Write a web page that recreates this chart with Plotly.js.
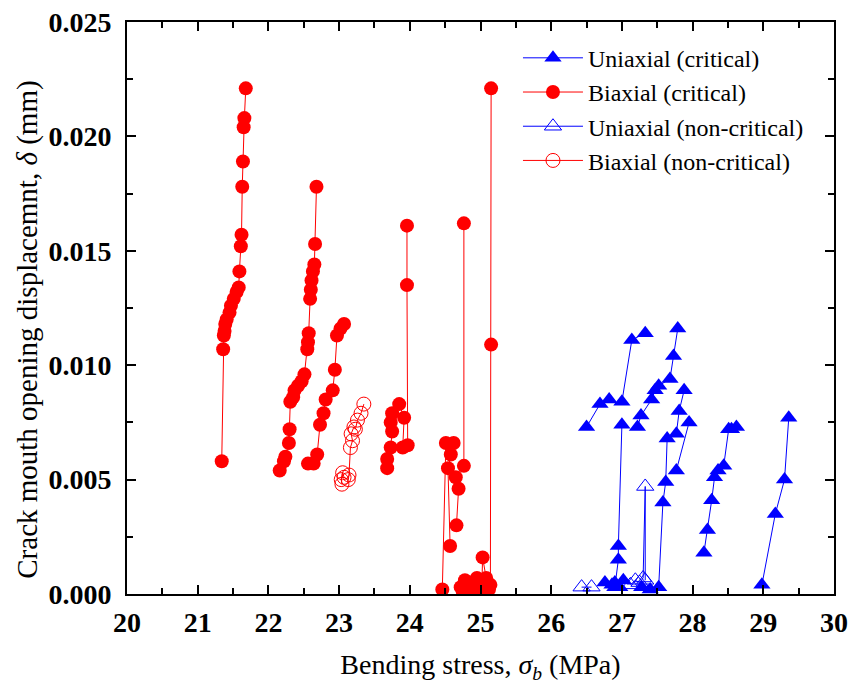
<!DOCTYPE html>
<html>
<head>
<meta charset="utf-8">
<script src="https://cdn.plot.ly/plotly-3.0.1.min.js"></script>
<style>html,body{margin:0;padding:0;background:#fff;}#chart{width:848px;height:684px;}</style>
</head>
<body>
<div id="chart"></div>
<script>
// Uniaxial (critical): specimens separated by null
const uniCritX = [26.50, 26.69, 26.82, null,
  27.00, 27.14, 27.33, null,
  26.90, 26.95, 26.95, 27.00, null,
  27.22, 27.27, 27.42, 27.47, 27.52, 27.68, 27.73, 27.79, null,
  27.52, 27.58, 27.62, 27.64, 27.77, 27.81, 27.88, null,
  27.77, 27.95, null,
  28.16, 28.21, 28.27, 28.31, 28.36, 28.44, 28.51, 28.55, 28.62, null,
  28.98, 29.17, 29.30, 29.36, null,
  26.76, 26.86, 26.90, 26.97, 27.02, null,
  27.28, 27.40];
const uniCritY = [0.0073, 0.0083, 0.0085, null,
  0.0084, 0.0111, 0.0114, null,
  0.0003, 0.0015, 0.0021, 0.0074, null,
  0.0073, 0.0078, 0.0085, 0.0089, 0.0091, 0.0094, 0.0104, 0.0116, null,
  0.0003, 0.0040, 0.0049, 0.0068, 0.0070, 0.0080, 0.0089, null,
  0.0054, 0.0075, null,
  0.0018, 0.0028, 0.0041, 0.0051, 0.0054, 0.0056, 0.0072, 0.0072, 0.0073, null,
  0.0004, 0.0035, 0.0050, 0.0077, null,
  0.0005, 0.0004, 0.0005, 0.0003, 0.0006, null,
  0.0003, 0.0002];

// Biaxial (critical)
const biCritX = [21.34, 21.36, 21.37, 21.38, 21.39, 21.41, 21.45, 21.47, 21.51, 21.55, 21.58, 21.59, 21.61, 21.62, 21.63, 21.64, 21.65, 21.66, 21.68, null,
  22.16, 22.22, 22.24, 22.29, 22.30, 22.31, 22.35, 22.37, 22.42, 22.47, 22.51, 22.55, 22.56, 22.57, 22.59, 22.60, 22.61, 22.63, 22.65, 22.66, 22.68, null,
  22.56, 22.64, 22.69, 22.73, 22.78, 22.81, 22.91, 22.94, 22.97, 23.02, 23.07, null,
  23.68, 23.68, 23.73, 23.75, 23.73, 23.75, 23.85, 23.92, 23.90, 23.97, 23.96, 23.96, null,
  24.46, 24.51, 24.62, 24.58, 24.54, 24.57, null,
  24.66, 24.69, 24.65, 24.765, 24.765, null,
  24.72, 24.75, 24.78, 24.82, 24.86, 24.88, 24.95, 25.00, 25.02, 25.03, 25.08, 25.12, null,
  25.15, 25.15, 25.14];
const biCritY = [0.0058, 0.0107, 0.0113, 0.0115, 0.0118, 0.0120, 0.0123, 0.0126, 0.0129, 0.0132, 0.0134, 0.0141, 0.0152, 0.0157, 0.0178, 0.0189, 0.0204, 0.0208, 0.0221, null,
  0.0054, 0.0058, 0.0060, 0.0066, 0.0072, 0.0084, 0.0086, 0.0089, 0.0091, 0.0093, 0.0096, 0.0107, 0.0110, 0.0114, 0.0129, 0.0133, 0.0137, 0.0141, 0.0144, 0.0153, 0.0178, null,
  0.0057, 0.0057, 0.0061, 0.0074, 0.0079, 0.0085, 0.0089, 0.0098, 0.0113, 0.0116, 0.0118, null,
  0.0055, 0.0059, 0.0064, 0.0071, 0.0075, 0.0079, 0.0083, 0.0077, 0.0064, 0.0065, 0.0135, 0.0161, null,
  0.0002, 0.0066, 0.0066, 0.0061, 0.0055, 0.0021, null,
  0.0030, 0.0046, 0.0051, 0.0056, 0.0162, null,
  0.0003, 0.0001, 0.0006, 0.0003, 0.0002, 0.0005, 0.0007, 0.0002, 0.0005, 0.0016, 0.0007, 0.0002, null,
  0.0221, 0.0109, 0.0004];

// Uniaxial (non-critical)
const uniNonX = [26.43, 26.57, null, 27.12, 27.19, 27.25, 27.30, 27.33, 27.33];
const uniNonY = [0.0003, 0.0003, null, 0.0004, 0.0006, 0.0005, 0.0007, 0.0047, 0.0006];

// Biaxial (non-critical)
const biNonX = [23.04, 23.03, 23.05, 23.07, 23.13, 23.14, 23.16, 23.19, 23.17, 23.21, 23.23, 23.26, 23.31, 23.35];
const biNonY = [0.0048, 0.0050, 0.0053, 0.0051, 0.0050, 0.0052, 0.0064, 0.0067, 0.0070, 0.0073, 0.0072, 0.0076, 0.0079, 0.0083];

const xTicks = [20, 21, 22, 23, 24, 25, 26, 27, 28, 29, 30];
const yTicks = [0, 0.005, 0.010, 0.015, 0.020, 0.025];
const yTickText = ["0.000", "0.005", "0.010", "0.015", "0.020", "0.025"];

const RED = "#FF0000", BLUE = "#0000FF";
const serif = "Liberation Serif, Times New Roman, serif";

const traces = [
  {x: uniCritX, y: uniCritY, name: "Uniaxial (critical)", mode: "lines+markers",
   line: {color: BLUE, width: 1}, marker: {symbol: "triangle-up", size: 15, color: BLUE}},
  {x: biCritX, y: biCritY, name: "Biaxial (critical)", mode: "lines+markers",
   line: {color: RED, width: 1}, marker: {symbol: "circle", size: 14, color: RED}},
  {x: uniNonX, y: uniNonY, name: "Uniaxial (non-critical)", mode: "lines+markers",
   line: {color: BLUE, width: 1}, marker: {symbol: "triangle-up-open", size: 15, color: BLUE, line: {width: 1}}},
  {x: biNonX, y: biNonY, name: "Biaxial (non-critical)", mode: "lines+markers",
   line: {color: RED, width: 1}, marker: {symbol: "circle-open", size: 14, color: RED, line: {width: 1}}}
];
traces.forEach(t => { t.type = "scatter"; t.connectgaps = false; });

const axisCommon = {
  showline: true, linecolor: "#000", linewidth: 2, mirror: "ticks",
  ticks: "inside", tickcolor: "#000", tickwidth: 2, ticklen: 9,
  showgrid: false, zeroline: false,
  tickfont: {family: serif, size: 28, color: "#000", weight: "bold"}
};

const layout = {
  width: 848, height: 684,
  margin: {l: 127, r: 14, t: 22, b: 90},
  paper_bgcolor: "#fff", plot_bgcolor: "#fff",
  showlegend: true,
  legend: {x: 0.553, y: 0.976, xanchor: "left", yanchor: "top", itemwidth: 60,
    bgcolor: "rgba(255,255,255,0)", font: {family: serif, size: 24, color: "#000"},
    tracegroupgap: 0},
  xaxis: Object.assign({}, axisCommon, {
    range: [20, 30], tickvals: xTicks, ticktext: xTicks.map(String),
    minor: {dtick: 0.5, tick0: 20, ticks: "inside", ticklen: 6, tickwidth: 2, tickcolor: "#000"},
    ticklabelstandoff: 2,
    title: {text: "Bending stress, <i>σ</i><sub><i>b</i></sub> (MPa)", font: {family: serif, size: 28, color: "#000"}, standoff: 18}
  }),
  yaxis: Object.assign({}, axisCommon, {
    range: [0, 0.025], tickvals: yTicks, ticktext: yTickText,
    minor: {dtick: 0.0025, tick0: 0, ticks: "inside", ticklen: 6, tickwidth: 2, tickcolor: "#000"},
    ticklabelstandoff: 8
  }),
  annotations: [{
    text: "Crack mouth opening displacemnt, <i>δ</i> (mm)",
    xref: "paper", yref: "paper", x: 0, y: 0.462, xanchor: "center", yanchor: "middle",
    xshift: -99, textangle: -90, showarrow: false,
    font: {family: serif, size: 29, color: "#000"}
  }]
};

Plotly.newPlot("chart", traces, layout, {displayModeBar: false, staticPlot: true});
</script>
</body>
</html>
